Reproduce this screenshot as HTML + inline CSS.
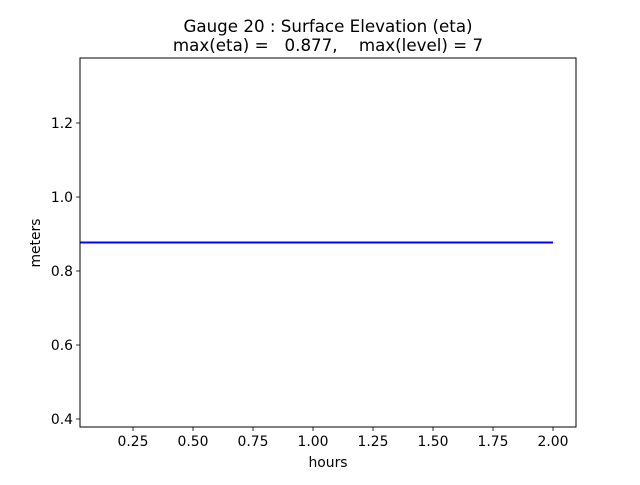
<!DOCTYPE html>
<html><head><style>body{margin:0;background:#fff}</style></head><body>
<svg width="640" height="480" xmlns="http://www.w3.org/2000/svg" font-family="DejaVu Sans, Liberation Sans, sans-serif">
<rect width="640" height="480" fill="#fff"/>
<text x="328" y="32" font-size="16.7" text-anchor="middle">Gauge 20 : Surface Elevation (eta)</text>
<text x="328" y="51" font-size="16.7" text-anchor="middle" xml:space="preserve">max(eta) =   0.877,    max(level) = 7</text>
<line x1="80" y1="242.5" x2="553" y2="242.5" stroke="#0000ff" stroke-width="2"/>
<rect x="80" y="58" width="496" height="369" fill="none" stroke="#000" stroke-width="1"/>
<g stroke="#000" stroke-width="0.8">
<line x1="133" y1="427" x2="133" y2="431"/><line x1="193" y1="427" x2="193" y2="431"/>
<line x1="253" y1="427" x2="253" y2="431"/><line x1="313" y1="427" x2="313" y2="431"/>
<line x1="373" y1="427" x2="373" y2="431"/><line x1="433" y1="427" x2="433" y2="431"/>
<line x1="493" y1="427" x2="493" y2="431"/><line x1="553" y1="427" x2="553" y2="431"/>
<line x1="76" y1="123" x2="80" y2="123"/><line x1="76" y1="197" x2="80" y2="197"/>
<line x1="76" y1="271" x2="80" y2="271"/><line x1="76" y1="345" x2="80" y2="345"/>
<line x1="76" y1="419" x2="80" y2="419"/>
</g>
<g font-size="13.9" text-anchor="middle">
<text x="133" y="446">0.25</text><text x="193" y="446">0.50</text><text x="253" y="446">0.75</text>
<text x="313" y="446">1.00</text><text x="373" y="446">1.25</text><text x="433" y="446">1.50</text>
<text x="493" y="446">1.75</text><text x="553" y="446">2.00</text>
<text x="328" y="467">hours</text>
</g>
<g font-size="13.9" text-anchor="end">
<text x="73" y="128">1.2</text><text x="73" y="202">1.0</text><text x="73" y="276">0.8</text>
<text x="73" y="350">0.6</text><text x="73" y="424">0.4</text>
</g>
<text x="40" y="243" font-size="13.9" text-anchor="middle" transform="rotate(-90 40 243)">meters</text>
</svg>
</body></html>
